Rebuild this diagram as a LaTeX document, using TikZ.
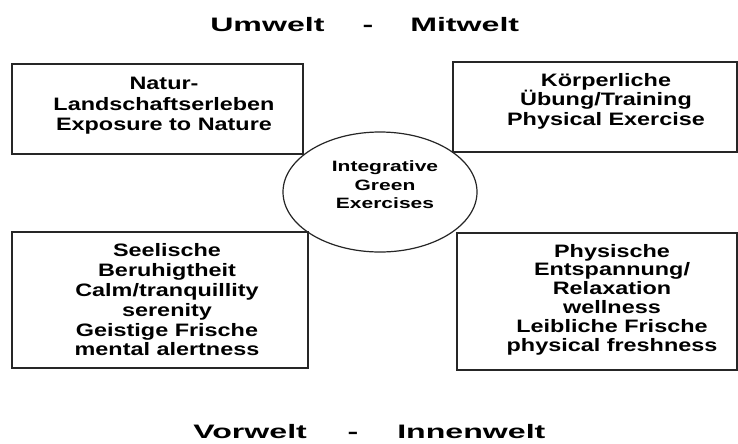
\documentclass[tikz,border=0pt]{standalone}
\usepackage{fontspec}
\setmainfont{Liberation Sans}
\newfontfamily\titlefont[FakeStretch=1.65]{Liberation Sans}
\newfontfamily\boxfont[FakeStretch=1.3]{Liberation Sans}
\newfontfamily\ovalfont[FakeStretch=1.4]{Liberation Sans}
\usetikzlibrary{shapes.geometric}
\begin{document}
\begin{tikzpicture}[x=0.75pt,y=-0.75pt,
  frame/.style={draw=black!85,line width=1.1pt,rectangle,inner sep=0},
  oval/.style={draw=black!85,line width=0.9pt,ellipse,inner sep=0},
  title/.style={font=\titlefont\bfseries\fontsize{14.6pt}{17pt}\selectfont,anchor=base west,inner sep=0},
  boxtext/.style={font=\boxfont\bfseries\fontsize{13.5pt}{#1}\selectfont,align=center,inner sep=0},
  ovaltext/.style={font=\ovalfont\bfseries\fontsize{11.25pt}{13.9pt}\selectfont,align=center,inner sep=0},
  ]
\useasboundingbox (0,0) rectangle (738,443);
\fill[white] (0,0) rectangle (738,443);
% titles
\node[title] (umwelt) at (210,31) {Umwelt};
\node[title,anchor=base] (dash1) at (368,31) {-};
\node[title] (mitwelt) at (410,31) {Mitwelt};
\node[title] (vorwelt) at (193,438) {Vorwelt};
\node[title,anchor=base] (dash2) at (353,438) {-};
\node[title] (innenwelt) at (397,438) {Innenwelt};
% boxes
\node[frame,minimum width=218.25pt,minimum height=67.5pt] (tl) at (157.5,109) {};
\node[frame,minimum width=213pt,minimum height=67.5pt] (tr) at (595,107) {};
\node[frame,minimum width=222pt,minimum height=102pt] (bl) at (160,300) {};
\node[frame,minimum width=210pt,minimum height=102.75pt] (br) at (597,301.5) {};
\node[oval,minimum width=145.5pt,minimum height=90pt] (center) at (380,192) {};
% texts
\node[boxtext=15.3pt] (tltext) at (164,106) {Natur-\\Landschaftserleben\\Exposure to Nature};
\node[boxtext=14.6pt] (trtext) at (606,101) {Körperliche\\Übung/Training\\Physical Exercise};
\node[boxtext=14.85pt] (bltext) at (167,300) {Seelische\\Beruhigtheit\\Calm/tranquillity\\serenity\\Geistige Frische\\mental alertness};
\node[boxtext=14.1pt] (brtext) at (612,299.5) {Physische\\Entspannung/\\Relaxation\\wellness\\Leibliche Frische\\physical freshness};
\node[ovaltext] (ctext) at (385,185) {Integrative\\Green\\Exercises};
\end{tikzpicture}
\end{document}
